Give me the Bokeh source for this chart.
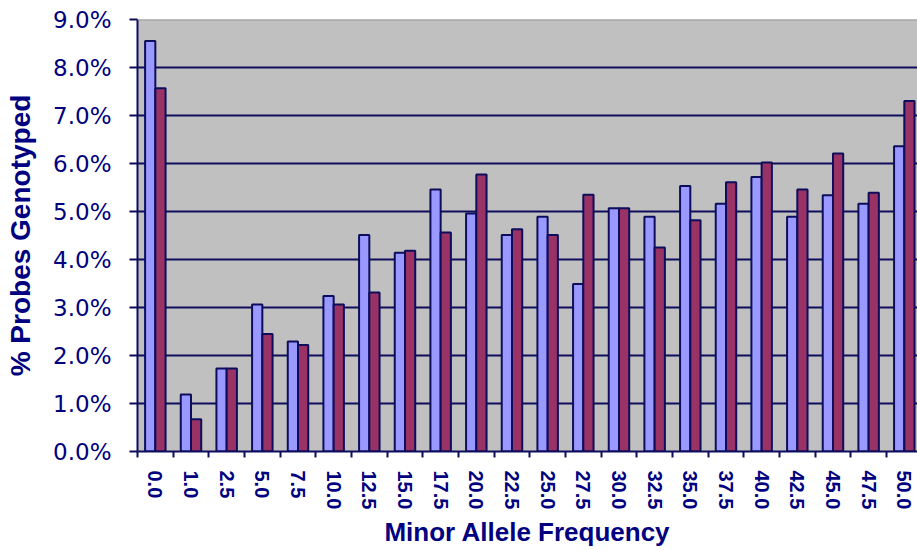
from bokeh.plotting import figure
from bokeh.models import ColumnDataSource, Range1d, FixedTicker, PrintfTickFormatter, Span
from bokeh.transform import dodge
from bokeh.embed import file_html
from bokeh.resources import INLINE

categories = ["0.0", "1.0", "2.5", "5.0", "7.5", "10.0", "12.5", "15.0", "17.5", "20.0",
              "22.5", "25.0", "27.5", "30.0", "32.5", "35.0", "37.5", "40.0", "42.5",
              "45.0", "47.5", "50.0"]
series_a = [8.55, 1.19, 1.73, 3.06, 2.29, 3.24, 4.51, 4.14, 5.46, 4.96, 4.51,
            4.89, 3.49, 5.07, 4.89, 5.53, 5.16, 5.72, 4.89, 5.34, 5.16, 6.36]
series_b = [7.57, 0.67, 1.73, 2.45, 2.22, 3.06, 3.31, 4.18, 4.56, 5.77, 4.63,
            4.51, 5.35, 5.07, 4.25, 4.82, 5.61, 6.02, 5.46, 6.21, 5.39, 7.30]
y_ticks = [0, 1, 2, 3, 4, 5, 6, 7, 8, 9]

NAVY = "#0d0d5c"
TEXT = "#000080"

xs = list(range(len(categories)))
src = ColumnDataSource(dict(x=xs, a=series_a, b=series_b))

p = figure(width=917, height=550, output_backend="svg", toolbar_location=None,
           x_range=Range1d(-0.5, 21.37), y_range=Range1d(0, 9),
           min_border_left=137, min_border_right=0, min_border_top=19,
           min_border_bottom=98)
p.background_fill_color = "#C0C0C0"
p.border_fill_color = "white"
p.outline_line_color = None

bw = 0.287
p.vbar(x=dodge("x", -bw / 2), top="a", bottom=0, width=bw, source=src,
       fill_color="#9999FF", line_color=NAVY, line_width=2)
p.vbar(x=dodge("x", bw / 2), top="b", bottom=0, width=bw, source=src,
       fill_color="#993366", line_color=NAVY, line_width=2)

# x axis
p.xaxis.ticker = FixedTicker(ticks=xs, minor_ticks=[i - 0.5 for i in range(len(categories) + 1)])
p.xaxis.major_label_overrides = {i: c for i, c in enumerate(categories)}
p.xaxis.major_tick_out = 0
p.xaxis.major_tick_in = 0
p.xaxis.minor_tick_out = 6
p.xaxis.minor_tick_in = 0
p.xaxis.minor_tick_line_color = NAVY
p.xaxis.minor_tick_line_width = 2
p.xaxis.axis_line_color = NAVY
p.xaxis.axis_line_width = 2
p.xaxis.major_label_orientation = "vertical"
p.xaxis.major_label_standoff = 13
p.xaxis.major_label_text_font = "Liberation Sans"
p.xaxis.major_label_text_font_style = "bold"
p.xaxis.major_label_text_font_size = "20px"
p.xaxis.major_label_text_color = TEXT
p.xaxis.axis_label = "Minor Allele Frequency"
p.xaxis.axis_label_text_font = "Liberation Sans"
p.xaxis.axis_label_text_font_style = "bold"
p.xaxis.axis_label_text_font_size = "26px"
p.xaxis.axis_label_text_color = TEXT
p.xaxis.axis_label_standoff = 5

# y axis
p.yaxis.ticker = FixedTicker(ticks=y_ticks, minor_ticks=[])
p.yaxis.formatter = PrintfTickFormatter(format="%.1f%%")
p.yaxis.major_tick_out = 8
p.yaxis.major_tick_in = 0
p.yaxis.major_tick_line_color = NAVY
p.yaxis.major_tick_line_width = 2
p.yaxis.axis_line_color = NAVY
p.yaxis.axis_line_width = 2
p.yaxis.major_label_standoff = 18
p.yaxis.major_label_text_font = "DejaVu Sans"
p.yaxis.major_label_text_font_size = "23px"
p.yaxis.major_label_text_color = TEXT
p.yaxis.axis_label = "% Probes Genotyped"
p.yaxis.axis_label_text_font = "Liberation Sans"
p.yaxis.axis_label_text_font_style = "bold"
p.yaxis.axis_label_text_font_size = "28px"
p.yaxis.axis_label_text_color = TEXT
p.yaxis.axis_label_standoff = 14

# grid
p.xgrid.visible = False
p.ygrid.ticker = FixedTicker(ticks=y_ticks[1:-1])
p.ygrid.grid_line_color = NAVY
p.ygrid.grid_line_width = 2

p.add_layout(Span(location=y_ticks[-1], dimension="width", line_color="#999999", line_width=2))

open("out.html", "w").write(file_html(p, INLINE))
